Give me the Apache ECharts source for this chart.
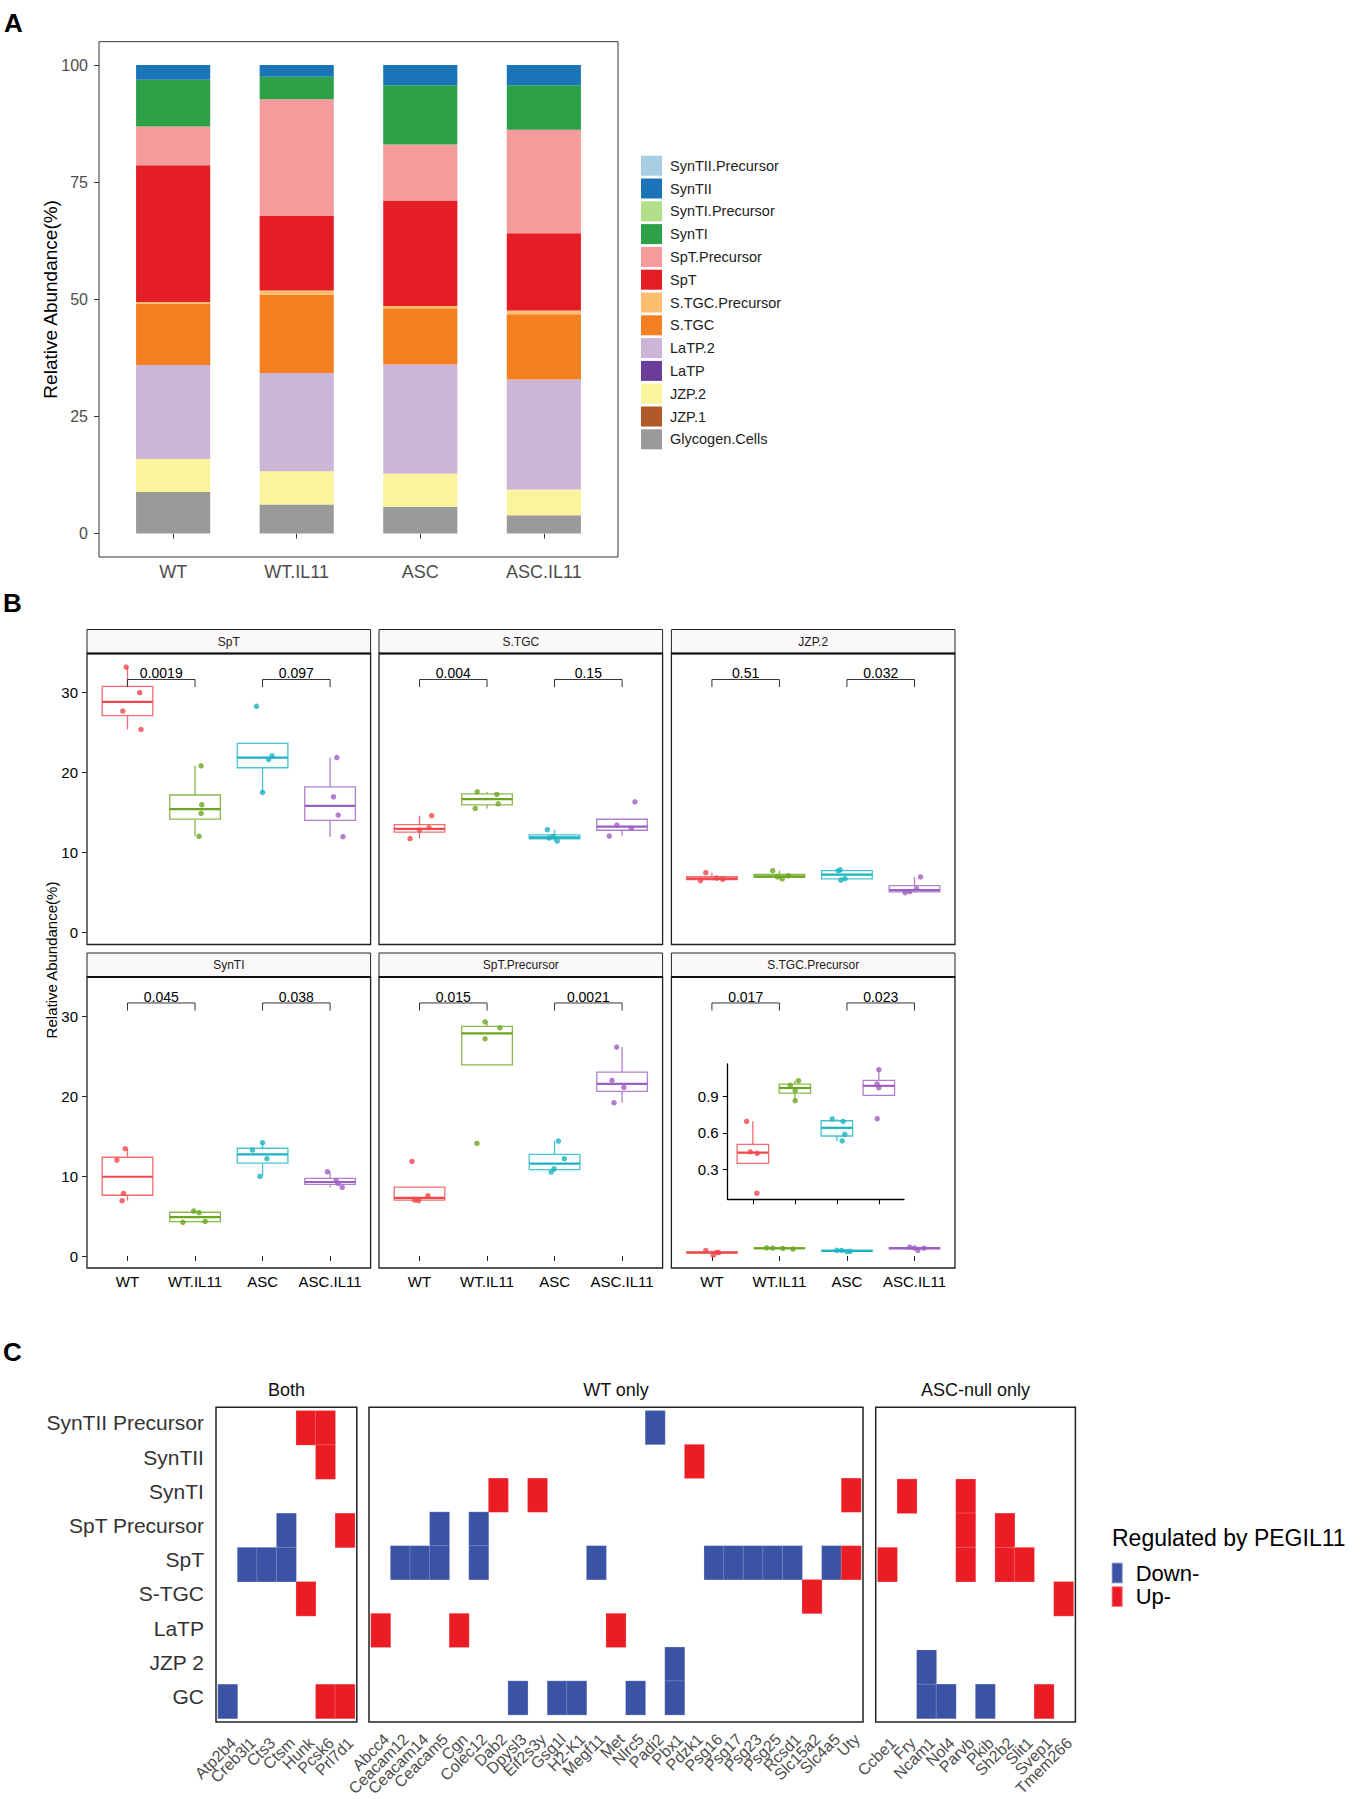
<!DOCTYPE html>
<html>
<head>
<meta charset="utf-8">
<script src="https://cdn.jsdelivr.net/npm/echarts@6/dist/echarts.min.js"></script>
<style>html,body{margin:0;padding:0;background:#fff}#chart{width:1365px;height:1799px}</style>
</head>
<body>
<div id="chart"></div>
<script>
// ---------------- DATA ----------------
const groups = ['WT', 'WT.IL11', 'ASC', 'ASC.IL11'];

// Panel A: stacked relative abundance (bottom to top)
const stackTypes = ['Glycogen.Cells','JZP.1','JZP.2','LaTP','LaTP.2','S.TGC','S.TGC.Precursor','SpT','SpT.Precursor','SynTI','SynTI.Precursor','SynTII','SynTII.Precursor'];
const abGlycogen   = [8.9, 6.2, 5.7, 3.9];
const abJZP1       = [0, 0, 0, 0];
const abJZP2       = [7.0, 7.1, 7.05, 5.5];
const abLaTP       = [0, 0, 0, 0];
const abLaTP2      = [20.1, 21.0, 23.35, 23.5];
const abSTGC       = [13.1, 16.7, 12.0, 13.9];
const abSTGCPre    = [0.35, 0.9, 0.5, 0.8];
const abSpT        = [29.15, 16.0, 22.5, 16.5];
const abSpTPre     = [8.3, 24.8, 11.95, 22.1];
const abSynTI      = [10.0, 4.8, 12.65, 9.5];
const abSynTIPre   = [0, 0, 0, 0];
const abSynTII     = [3.1, 2.5, 4.3, 4.3];
const abSynTIIPre  = [0, 0, 0, 0];

// Panel B: per-sample relative abundance (4 samples per group) and horizontal jitter
const ptsSpT = [[33.2, 30.0, 27.7, 25.4], [20.85, 15.98, 14.9, 12.03], [28.3, 22.1, 21.64, 17.52], [21.89, 16.98, 14.69, 11.99]];
const jitSpT = [[-0.02, 0.18, -0.07, 0.2], [0.09, 0.1, 0.09, 0.06], [-0.09, 0.14, 0.09, 0], [0.1, 0.05, 0.12, 0.19]];
const ptsSTGC = [[14.61, 13.11, 12.82, 11.74], [17.6, 17.27, 16.1, 15.52], [12.86, 12.0, 11.82, 11.44], [16.35, 13.44, 13.03, 12.07]];
const jitSTGC = [[0.18, 0.14, 0, -0.14], [-0.145, 0.145, 0.165, -0.175], [-0.106, -0.02, -0.08, 0.04], [0.19, -0.076, 0.135, -0.19]];
const ptsJZP2 = [[7.49, 6.8, 6.66, 6.49], [7.74, 7.1, 6.95, 6.7], [7.84, 7.72, 6.75, 6.55], [6.95, 5.5, 5.12, 5.0]];
const jitJZP2 = [[-0.09, 0.07, 0.16, -0.17], [-0.1, 0.13, -0.03, 0.04], [-0.1, -0.13, -0.03, -0.09], [0.09, 0.03, -0.07, -0.14]];
const ptsSynTI = [[13.42, 12.0, 7.83, 6.92], [5.63, 5.42, 4.33, 4.21], [14.17, 13.25, 12.17, 9.96], [10.54, 9.42, 9.1, 8.58]];
const jitSynTI = [[-0.034, -0.157, -0.06, -0.08], [-0.02, 0.06, 0.15, -0.18], [0, -0.15, 0.064, -0.04], [-0.04, 0.09, 0.12, 0.18]];
const ptsSpTPre = [[11.83, 7.54, 7.0, 6.92], [29.29, 28.54, 27.17, 14.08], [14.38, 12.17, 10.92, 10.5], [26.13, 21.96, 21.08, 19.17]];
const jitSpTPre = [[-0.113, 0.123, -0.074, -0.015], [-0.03, 0.19, -0.03, -0.15], [0.057, 0.145, -0.007, -0.05], [-0.08, -0.15, 0.027, -0.12]];
const ptsSTGCPre = [[0.696, 0.443, 0.432, 0.102], [1.032, 0.994, 0.95, 0.867], [0.716, 0.696, 0.589, 0.534], [1.123, 1.005, 0.974, 0.718]];
const jitSTGCPre = [[-0.09, 0.07, 0.1, 0.02], [-0.19, -0.1, 0.05, 0.2], [-0.15, -0.08, 0.05, 0.0], [-0.07, 0, 0.14, 0.05]];
const jitSTGCPreInset = [[-0.15, -0.063, 0.1, 0.095], [0.087, -0.11, 0.008, 0.008], [-0.11, 0.15, 0.19, 0.127], [0, -0.04, 0, -0.04]];

const pSpT = ['0.0019', '0.097'];
const pSTGC = ['0.004', '0.15'];
const pJZP2 = ['0.51', '0.032'];
const pSynTI = ['0.045', '0.038'];
const pSpTPre = ['0.015', '0.0021'];
const pSTGCPre = ['0.017', '0.023'];
const bracketPairs = [[1, 2], [3, 4]];

const yTicksA = [0, 25, 50, 75, 100];
const yTicksB = [0, 10, 20, 30];
const yTicksInset = [0.3, 0.6, 0.9];

// Panel C: genes regulated by PEGIL11
const rowsC = ['SynTII Precursor','SynTII','SynTI','SpT Precursor','SpT','S-TGC','LaTP','JZP 2','GC'];
const genesBoth = ['Atp2b4','Creb3l1','Cts3','Ctsm','Hunk','Pcsk6','Prl7d1'];
const genesWT = ['Abcc4','Ceacam12','Ceacam14','Ceacam5','Cgn','Colec12','Dab2','Dpysl3','Eif2s3y','Gsg1l','H2-K1','Megf11','Met','Nlrc5','Padi2','Pbx1','Pdzk1','Psg16','Psg17','Psg23','Psg25','Rcsd1','Slc15a2','Slc4a5','Uty'];
const genesASC = ['Ccbe1','Fry','Ncam1','Nol4','Parvb','Pkib','Sh2b2','Slit1','Svep1','Tmem266'];
const regBoth = [
  ['Hunk','SynTII Precursor','Up-'],['Pcsk6','SynTII Precursor','Up-'],
  ['Pcsk6','SynTII','Up-'],
  ['Ctsm','SpT Precursor','Down-'],['Prl7d1','SpT Precursor','Up-'],
  ['Creb3l1','SpT','Down-'],['Cts3','SpT','Down-'],['Ctsm','SpT','Down-'],
  ['Hunk','S-TGC','Up-'],
  ['Atp2b4','GC','Down-'],['Pcsk6','GC','Up-'],['Prl7d1','GC','Up-']
];
const regWT = [
  ['Padi2','SynTII Precursor','Down-'],
  ['Pdzk1','SynTII','Up-'],
  ['Dab2','SynTI','Up-'],['Eif2s3y','SynTI','Up-'],['Uty','SynTI','Up-'],
  ['Ceacam5','SpT Precursor','Down-'],['Colec12','SpT Precursor','Down-'],
  ['Ceacam12','SpT','Down-'],['Ceacam14','SpT','Down-'],['Ceacam5','SpT','Down-'],['Colec12','SpT','Down-'],
  ['Megf11','SpT','Down-'],['Psg16','SpT','Down-'],['Psg17','SpT','Down-'],['Psg23','SpT','Down-'],
  ['Psg25','SpT','Down-'],['Rcsd1','SpT','Down-'],['Slc4a5','SpT','Down-'],['Uty','SpT','Up-'],
  ['Slc15a2','S-TGC','Up-'],
  ['Abcc4','LaTP','Up-'],['Cgn','LaTP','Up-'],['Met','LaTP','Up-'],
  ['Pbx1','JZP 2','Down-'],
  ['Dpysl3','GC','Down-'],['Gsg1l','GC','Down-'],['H2-K1','GC','Down-'],['Nlrc5','GC','Down-'],['Pbx1','GC','Down-']
];
const regASC = [
  ['Fry','SynTI','Up-'],['Parvb','SynTI','Up-'],
  ['Parvb','SpT Precursor','Up-'],['Sh2b2','SpT Precursor','Up-'],
  ['Ccbe1','SpT','Up-'],['Parvb','SpT','Up-'],['Sh2b2','SpT','Up-'],['Slit1','SpT','Up-'],
  ['Tmem266','S-TGC','Up-'],
  ['Ncam1','JZP 2','Down-'],
  ['Ncam1','GC','Down-'],['Nol4','GC','Down-'],['Pkib','GC','Down-'],['Svep1','GC','Up-']
];

// ---------------- STYLE / LAYOUT ----------------
const FONT = "'Liberation Sans', Arial, Helvetica, sans-serif";
const stackColors = {
  'Glycogen.Cells':'#9A9A9A','JZP.1':'#B15928','JZP.2':'#FAF59C','LaTP':'#6A3D9A','LaTP.2':'#CDB5D7',
  'S.TGC':'#F47F20','S.TGC.Precursor':'#FDBF6F','SpT':'#E51D25','SpT.Precursor':'#F59B9B',
  'SynTI':'#2DA148','SynTI.Precursor':'#B2DF8A','SynTII':'#1C74B8','SynTII.Precursor':'#A6CEE3'
};
const stackValues = [abGlycogen, abJZP1, abJZP2, abLaTP, abLaTP2, abSTGC, abSTGCPre, abSpT, abSpTPre, abSynTI, abSynTIPre, abSynTII, abSynTIIPre];
const groupColors = ['#F0474B', '#6CA620', '#1AB3C2', '#9D5FC2'];
const downColor = '#3A53A4', upColor = '#EC1C24';

const grids = [], xAxes = [], yAxes = [], series = [], graphics = [];
function addGrid(r) { grids.push({left: r.l, top: r.t, width: r.r - r.l, height: r.b - r.t}); return grids.length - 1; }
function txt(x, y, text, size, opts) {
  opts = opts || {};
  return {type: 'text', x: x, y: y, rotation: opts.rot || 0, silent: true, z: 10,
    style: {text: text, x: 0, y: 0, fontSize: size, fontFamily: FONT, fontWeight: opts.bold ? 'bold' : 'normal',
      fill: opts.color || '#000', align: opts.align || 'center', verticalAlign: opts.va || 'middle'}};
}
function frame(l, t, r, b, color, w) {
  return {type: 'rect', silent: true, z: 5, shape: {x: l, y: t, width: r - l, height: b - t}, style: {fill: 'none', stroke: color, lineWidth: w}};
}

// ---------------- PANEL A ----------------
const aF = {l: 99, t: 41.7, r: 618, b: 557};
const unitA = (aF.r - aF.l) / 4.2;
const gA = addGrid(aF);
xAxes.push({gridIndex: gA, type: 'value', min: 0.4, max: 4.6, splitLine: {show: false}, axisLine: {show: false},
  axisTick: {show: true, length: 5, customValues: [1, 2, 3, 4], lineStyle: {color: '#333'}},
  axisLabel: {customValues: [1, 2, 3, 4], formatter: v => groups[Math.round(v) - 1], fontSize: 18, color: '#4d4d4d', margin: 6, fontFamily: FONT}});
yAxes.push({gridIndex: gA, type: 'value', min: -5, max: 105, splitLine: {show: false}, axisLine: {show: false},
  axisTick: {show: true, length: 5, customValues: yTicksA, lineStyle: {color: '#333'}},
  axisLabel: {customValues: yTicksA, fontSize: 16, color: '#4d4d4d', margin: 11, fontFamily: FONT}});
const gAi = addGrid({l: aF.l + 0.1 * unitA, t: aF.t, r: aF.r - 0.1 * unitA, b: aF.b});
const xAi = xAxes.length;
xAxes.push({gridIndex: gAi, type: 'category', data: groups, show: false});
const yAi = yAxes.length;
yAxes.push({gridIndex: gAi, type: 'value', min: -5, max: 105, show: false});
stackTypes.forEach((name, k) => {
  series.push({type: 'bar', name: name, stack: 'abundance', xAxisIndex: xAi, yAxisIndex: yAi, barWidth: '60%',
    itemStyle: {color: stackColors[name]}, data: stackValues[k], silent: true});
});
graphics.push(frame(aF.l, aF.t, aF.r, aF.b, '#333', 1));
graphics.push(txt(50, (aF.t + aF.b) / 2, 'Relative Abundance(%)', 19, {rot: Math.PI / 2}));
graphics.push(txt(4, 23, 'A', 26, {bold: true, align: 'left'}));

// ---------------- PANEL B ----------------
function q7(s, p) { const h = (s.length - 1) * p; const lo = Math.floor(h), hi = Math.ceil(h); return s[lo] + (h - lo) * (s[hi] - s[lo]); }
function boxStats(pts) {
  const s = pts.slice().sort((a, b) => a - b);
  const q1 = q7(s, 0.25), md = q7(s, 0.5), q3 = q7(s, 0.75), iqr = q3 - q1;
  const lw = Math.min.apply(null, s.filter(v => v >= q1 - 1.5 * iqr));
  const uw = Math.max.apply(null, s.filter(v => v <= q3 + 1.5 * iqr));
  return [lw, q1, md, q3, uw];
}
function boxSeries(xi, yi, pts) {
  return {type: 'custom', xAxisIndex: xi, yAxisIndex: yi, z: 3, silent: true, clip: false,
    data: pts.map((p, g) => ({value: [g + 1].concat(boxStats(p)), itemStyle: {color: groupColors[g]}})),
    renderItem: (params, api) => {
      const x = api.value(0), lw = api.value(1), q1 = api.value(2), md = api.value(3), q3 = api.value(4), uw = api.value(5);
      const hw = api.size([0.75, 0])[0] / 2;
      const c = api.visual('color');
      const cl = echarts.color.modifyAlpha(c, 0.8);
      const P = v => api.coord([x, v]);
      const pL = P(lw), p1 = P(q1), pm = P(md), p3 = P(q3), pU = P(uw);
      const ch = [];
      if (uw > q3) ch.push({type: 'line', shape: {x1: p3[0], y1: p3[1], x2: pU[0], y2: pU[1]}, style: {stroke: cl, lineWidth: 1.3}});
      if (lw < q1) ch.push({type: 'line', shape: {x1: p1[0], y1: p1[1], x2: pL[0], y2: pL[1]}, style: {stroke: cl, lineWidth: 1.3}});
      ch.push({type: 'rect', shape: {x: p3[0] - hw, y: p3[1], width: 2 * hw, height: Math.max(p1[1] - p3[1], 0.6)}, style: {fill: '#fff', stroke: cl, lineWidth: 1.3}});
      ch.push({type: 'line', shape: {x1: pm[0] - hw, y1: pm[1], x2: pm[0] + hw, y2: pm[1]}, style: {stroke: c, lineWidth: 2.2}});
      return {type: 'group', children: ch};
    }};
}
function pointSeries(xi, yi, pts, jit) {
  const data = [];
  pts.forEach((p, g) => p.forEach((v, k) => data.push({value: [g + 1 + jit[g][k], v], itemStyle: {color: groupColors[g]}})));
  return {type: 'scatter', xAxisIndex: xi, yAxisIndex: yi, symbolSize: 5.5, z: 4, silent: true, data: data};
}
const BR_LOW = 30.7, BR_HIGH = 31.65;
function bracketSeries(xi, yi, pv) {
  return {type: 'custom', xAxisIndex: xi, yAxisIndex: yi, z: 4, silent: true, clip: false,
    data: bracketPairs.map(p => p.slice()),
    renderItem: (params, api) => {
      const x1 = api.value(0), x2 = api.value(1);
      const a = api.coord([x1, BR_LOW]), b = api.coord([x1, BR_HIGH]), c = api.coord([x2, BR_HIGH]), d = api.coord([x2, BR_LOW]);
      return {type: 'group', children: [
        {type: 'polyline', shape: {points: [a, b, c, d]}, style: {stroke: '#333', lineWidth: 1, fill: null}},
        {type: 'text', style: {text: pv[params.dataIndex], x: (b[0] + c[0]) / 2, y: b[1] + 1, align: 'center', verticalAlign: 'bottom',
          fontSize: 14, fontFamily: FONT, fill: '#000'}}
      ]};
    }};
}
const panelsB = [
  {name: 'SpT', pts: ptsSpT, jit: jitSpT, p: pSpT},
  {name: 'S.TGC', pts: ptsSTGC, jit: jitSTGC, p: pSTGC},
  {name: 'JZP.2', pts: ptsJZP2, jit: jitJZP2, p: pJZP2},
  {name: 'SynTI', pts: ptsSynTI, jit: jitSynTI, p: pSynTI},
  {name: 'SpT.Precursor', pts: ptsSpTPre, jit: jitSpTPre, p: pSpTPre},
  {name: 'S.TGC.Precursor', pts: ptsSTGCPre, jit: jitSTGCPre, p: pSTGCPre}
];
const bLefts = [87, 379, 671.4], bW = 283.6, bStripTops = [629.5, 953], stripH = 24, plotH = 291;
panelsB.forEach((pb, i) => {
  const row = Math.floor(i / 3), col = i % 3;
  const l = bLefts[col], st = bStripTops[row], t = st + stripH, r = l + bW, b = t + plotH;
  const gi = addGrid({l: l, t: t, r: r, b: b});
  const xi = xAxes.length;
  xAxes.push({gridIndex: gi, type: 'value', min: 0.4, max: 4.6, splitLine: {show: false}, axisLine: {show: false},
    axisTick: {show: row === 1, length: 5, customValues: [1, 2, 3, 4], lineStyle: {color: '#222'}},
    axisLabel: {show: row === 1, customValues: [1, 2, 3, 4], formatter: v => groups[Math.round(v) - 1], fontSize: 15, color: '#000', margin: 6, fontFamily: FONT}});
  const yi = yAxes.length;
  yAxes.push({gridIndex: gi, type: 'value', min: -1.5, max: 34.9, splitLine: {show: false}, axisLine: {show: false},
    axisTick: {show: col === 0, length: 5, customValues: yTicksB, lineStyle: {color: '#222'}},
    axisLabel: {show: col === 0, customValues: yTicksB, fontSize: 15, color: '#000', margin: 9, fontFamily: FONT}});
  series.push(boxSeries(xi, yi, pb.pts));
  series.push(pointSeries(xi, yi, pb.pts, pb.jit));
  series.push(bracketSeries(xi, yi, pb.p));
  graphics.push({type: 'rect', silent: true, z: 5, shape: {x: l, y: st, width: bW, height: stripH}, style: {fill: '#FAF8F8', stroke: '#222', lineWidth: 1}});
  graphics.push({type: 'line', silent: true, z: 6, shape: {x1: l, y1: t, x2: r, y2: t}, style: {stroke: '#111', lineWidth: 2.2}});
  graphics.push(txt((l + r) / 2, st + stripH / 2, pb.name, 12, {color: '#1a1a1a'}));
  graphics.push(frame(l, t, r, b, '#222', 1.3));
});
graphics.push(txt(51, 960, 'Relative Abundance(%)', 15, {rot: Math.PI / 2}));
graphics.push(txt(3, 603, 'B', 26, {bold: true, align: 'left'}));

// inset for S.TGC.Precursor
const ins = {l: 727.7, t: 1064, r: 904, b: 1199.3};
const gIn = addGrid(ins);
const xIn = xAxes.length;
xAxes.push({gridIndex: gIn, type: 'value', min: 0.4, max: 4.6, splitLine: {show: false},
  axisLine: {show: true, lineStyle: {color: '#000', width: 1.3}},
  axisTick: {show: true, length: 5, customValues: [1, 2, 3, 4], lineStyle: {color: '#000'}},
  axisLabel: {show: false}});
const yIn = yAxes.length;
yAxes.push({gridIndex: gIn, type: 'value', min: 0.052, max: 1.17, splitLine: {show: false},
  axisLine: {show: true, lineStyle: {color: '#000', width: 1.3}},
  axisTick: {show: true, length: 5, customValues: yTicksInset, lineStyle: {color: '#000'}},
  axisLabel: {customValues: yTicksInset, formatter: v => v.toFixed(1), fontSize: 15, color: '#000', margin: 9, fontFamily: FONT}});
series.push(boxSeries(xIn, yIn, ptsSTGCPre));
series.push(pointSeries(xIn, yIn, ptsSTGCPre, jitSTGCPreInset));

// ---------------- PANEL C ----------------
const cTop = 1407.3, cBot = 1722;
const cPanels = [
  {title: 'Both', l: 216, r: 356.8, genes: genesBoth, reg: regBoth},
  {title: 'WT only', l: 369, r: 863, genes: genesWT, reg: regWT},
  {title: 'ASC-null only', l: 875.7, r: 1075.4, genes: genesASC, reg: regASC}
];
const rowH = (cBot - cTop) / (rowsC.length + 0.2);
cPanels.forEach((cp, i) => {
  const u = (cp.r - cp.l) / (cp.genes.length + 0.2);
  const gi = addGrid({l: cp.l + 0.1 * u, t: cTop + 0.1 * rowH, r: cp.r - 0.1 * u, b: cBot - 0.1 * rowH});
  const xi = xAxes.length;
  xAxes.push({gridIndex: gi, type: 'category', data: cp.genes, axisLine: {show: false}, axisTick: {show: false}, splitLine: {show: false},
    axisLabel: {interval: 0, rotate: 45, align: 'right', verticalAlign: 'top', fontSize: 16, color: '#4d4d4d', margin: 16, fontFamily: FONT}});
  const yi = yAxes.length;
  yAxes.push({gridIndex: gi, type: 'category', data: rowsC, inverse: true, axisLine: {show: false}, axisTick: {show: false}, splitLine: {show: false},
    axisLabel: {show: i === 0, interval: 0, fontSize: 21, color: '#333', margin: 14, verticalAlign: 'bottom', lineHeight: 10, fontFamily: FONT}});
  [['Down-', downColor, -1], ['Up-', upColor, 1]].forEach(d => {
    series.push({type: 'heatmap', name: d[0], xAxisIndex: xi, yAxisIndex: yi, silent: true,
      itemStyle: {color: d[1], borderColor: 'rgba(255,255,255,0.35)', borderWidth: 0.6},
      data: cp.reg.filter(e => e[2] === d[0]).map(e => [e[0], e[1], d[2]])});
  });
  graphics.push(frame(cp.l, cTop, cp.r, cBot, '#222', 1.5));
  graphics.push(txt((cp.l + cp.r) / 2, 1390, cp.title, 18, {color: '#111'}));
});
graphics.push(txt(3, 1352, 'C', 26, {bold: true, align: 'left'}));
graphics.push(txt(1112, 1538, 'Regulated by PEGIL11', 23, {align: 'left'}));

// ---------------- OPTION ----------------
const option = {
  animation: false,
  backgroundColor: '#fff',
  textStyle: {fontFamily: FONT},
  grid: grids,
  xAxis: xAxes,
  yAxis: yAxes,
  legend: [
    {orient: 'vertical', left: 641, top: 155.7, padding: 0, itemWidth: 21, itemHeight: 20, itemGap: 2.8, icon: 'rect', selectedMode: false,
      data: stackTypes.slice().reverse(), textStyle: {fontSize: 14.5, color: '#222', lineHeight: 20, padding: [0, 0, 0, 3], fontFamily: FONT}},
    {orient: 'vertical', left: 1110.7, top: 1561.7, padding: 0, itemWidth: 11, itemHeight: 20.6, itemGap: 1, icon: 'rect', selectedMode: false,
      data: ['Down-', 'Up-'], textStyle: {fontSize: 22, color: '#000', lineHeight: 20.6, padding: [0, 0, 0, 8], fontFamily: FONT}}
  ],
  graphic: graphics,
  series: series
};
const chart = echarts.init(document.getElementById('chart'), null, {renderer: 'svg'});
chart.setOption(option);
</script>
</body>
</html>
